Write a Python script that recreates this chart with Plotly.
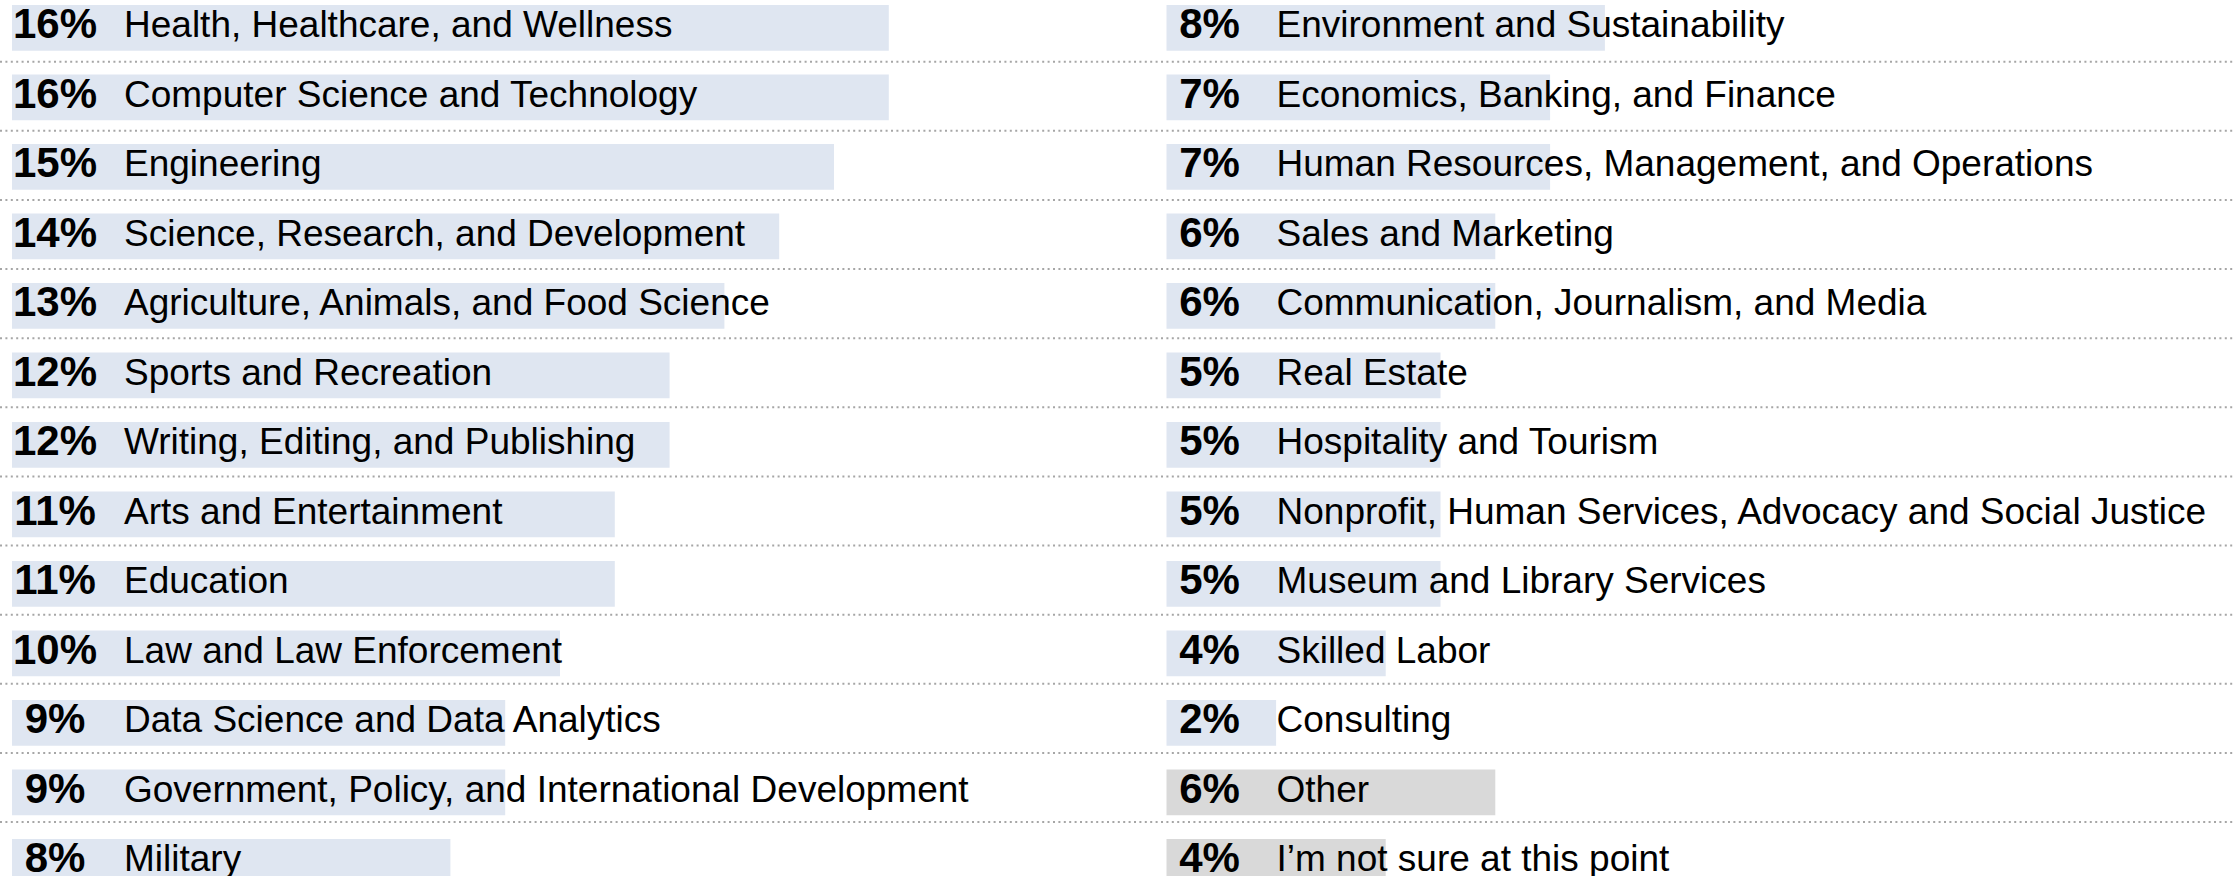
import plotly.graph_objects as go

# ---- data ----
left_categories = [
    "Health, Healthcare, and Wellness",
    "Computer Science and Technology",
    "Engineering",
    "Science, Research, and Development",
    "Agriculture, Animals, and Food Science",
    "Sports and Recreation",
    "Writing, Editing, and Publishing",
    "Arts and Entertainment",
    "Education",
    "Law and Law Enforcement",
    "Data Science and Data Analytics",
    "Government, Policy, and International Development",
    "Military",
]
left_values = [16, 16, 15, 14, 13, 12, 12, 11, 11, 10, 9, 9, 8]

right_categories = [
    "Environment and Sustainability",
    "Economics, Banking, and Finance",
    "Human Resources, Management, and Operations",
    "Sales and Marketing",
    "Communication, Journalism, and Media",
    "Real Estate",
    "Hospitality and Tourism",
    "Nonprofit, Human Services, Advocacy and Social Justice",
    "Museum and Library Services",
    "Skilled Labor",
    "Consulting",
    "Other",
    "I\u2019m not sure at this point",
]
right_values = [8, 7, 7, 6, 6, 5, 5, 5, 5, 4, 2, 6, 4]
right_is_other = [False] * 11 + [True, True]

# ---- styling ----
W, H = 2233, 876
PX_PER_PCT = 54.8
ROW_PX = 69.5
ROW0_PX = 27.8
BLUE = "#dfe6f1"
GRAY = "#d9d9d9"
FONT = "Liberation Sans, Arial, sans-serif"

left_start_px = 12.0
right_start_px = 1166.5
split_px = 1116.5

rows = list(range(len(left_categories)))

fig = go.Figure()

def add_column(cats, vals, colors, xa, label_off):
    fig.add_trace(go.Bar(
        x=vals, y=rows, base=0, orientation="h",
        marker=dict(color=colors, line=dict(width=0)),
        width=0.658, xaxis=xa, yaxis="y", hoverinfo="skip",
        showlegend=False,
    ))
    fig.add_trace(go.Scatter(
        x=[43 / PX_PER_PCT] * len(vals), y=rows, mode="text",
        text=[f"<b>{v}%</b>" for v in vals],
        textposition="middle center",
        textfont=dict(family=FONT, size=42, color="#000000"),
        xaxis=xa, yaxis="y", hoverinfo="skip", showlegend=False,
        cliponaxis=False,
    ))
    fig.add_trace(go.Scatter(
        x=[label_off / PX_PER_PCT] * len(vals), y=rows, mode="text",
        text=cats, textposition="middle right",
        textfont=dict(family=FONT, size=37, color="#000000"),
        xaxis=xa, yaxis="y", hoverinfo="skip", showlegend=False,
        cliponaxis=False,
    ))

add_column(left_categories, left_values, [BLUE] * len(left_values), "x", 112)
add_column(right_categories, right_values,
           [GRAY if o else BLUE for o in right_is_other], "x2", 110)

# dotted separators between rows
shapes = []
for k in range(len(rows)):
    yk = k + 0.488 - 0.0055 * k
    shapes.append(dict(
        type="line", xref="paper", yref="y", x0=0, x1=1, y0=yk, y1=yk,
        line=dict(color="#a6a6a6", width=2, dash="2px,3.4px"), layer="below",
    ))

y_top = -ROW0_PX / ROW_PX
y_bot = (H - ROW0_PX) / ROW_PX

fig.update_layout(
    width=W, height=H,
    margin=dict(l=0, r=0, t=0, b=0),
    paper_bgcolor="white", plot_bgcolor="white",
    barmode="overlay",
    shapes=shapes,
    xaxis=dict(domain=[0, split_px / W],
               range=[-left_start_px / PX_PER_PCT, (split_px - left_start_px) / PX_PER_PCT],
               visible=False, fixedrange=True),
    xaxis2=dict(domain=[split_px / W, 1],
                range=[-(right_start_px - split_px) / PX_PER_PCT, (W - right_start_px) / PX_PER_PCT],
                visible=False, fixedrange=True),
    yaxis=dict(range=[y_bot, y_top], visible=False, fixedrange=True),
)

fig.write_html(
    "out.html",
    config={"displayModeBar": False},
    post_script="document.body.style.margin='0';document.body.style.overflow='hidden';",
)
